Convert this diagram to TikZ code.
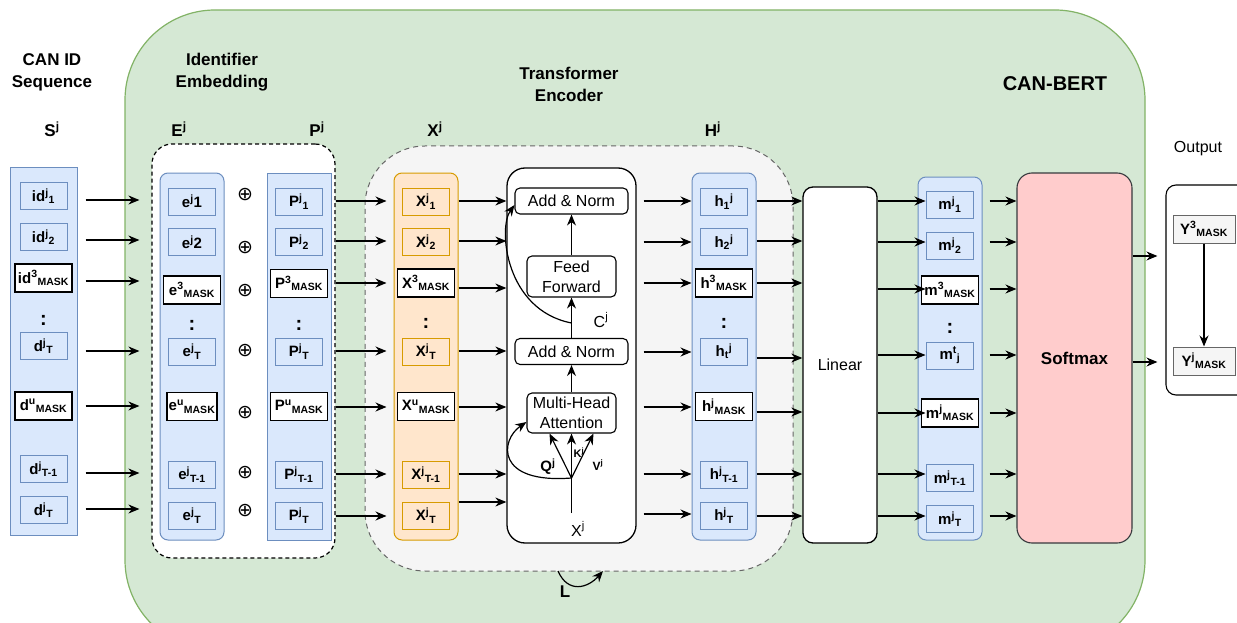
\documentclass[tikz,border=0pt]{standalone}
\usepackage{fontspec}
\setmainfont{Liberation Sans}
\newfontfamily\cbSymFont{DejaVu Sans}
\usetikzlibrary{arrows.meta}

\definecolor{bluefill}{HTML}{DAE8FC}
\definecolor{bluestroke}{HTML}{6C8EBF}
\definecolor{orfill}{HTML}{FFE6CC}
\definecolor{orstroke}{HTML}{D79B00}
\definecolor{greenfill}{HTML}{D5E8D4}
\definecolor{greenstroke}{HTML}{82B366}
\definecolor{greyfill}{HTML}{F5F5F5}
\definecolor{greystroke}{HTML}{666666}
\definecolor{redfill}{HTML}{FFCCCC}
\definecolor{darkstroke}{HTML}{36393D}

\newcommand\cbItemFont{\bfseries\fontsize{15}{15}\selectfont}
\newcommand\cbHeadFont{\bfseries\fontsize{17}{22}\selectfont}
\newcommand\cbPlainFont{\fontsize{16}{20}\selectfont}
\newcommand\cbsup[1]{\textsuperscript{#1}}
\newcommand\cbsub[1]{\textsubscript{#1}}

\begin{document}
\begin{tikzpicture}[x=1pt,y=-1pt,
  arr/.style={-{Stealth[length=11pt,width=9pt]}, line width=1.2pt},
  colbox/.style={draw=bluestroke, fill=bluefill, line width=1pt, inner sep=0pt},
  ocolbox/.style={draw=orstroke, fill=orfill, line width=1pt, inner sep=0pt},
  item/.style={draw=bluestroke, fill=bluefill, line width=1pt, minimum width=47pt,
    minimum height=27pt, inner sep=0pt, font=\cbItemFont},
  oitem/.style={item, draw=orstroke, fill=orfill},
  mask/.style={draw=black, fill=white, line width=1.2pt, minimum width=57pt,
    minimum height=28pt, inner sep=0pt, font=\cbItemFont},
  ybox/.style={draw=greystroke, fill=greyfill, line width=1pt, minimum width=62pt,
    minimum height=28pt, inner sep=0pt, font=\cbItemFont},
  dots/.style={font=\bfseries\fontsize{20}{20}\selectfont, inner sep=0pt},
  plus/.style={font=\cbSymFont\fontsize{19}{19}\selectfont, inner sep=0pt},
  head/.style={font=\cbHeadFont, align=center, inner sep=0pt},
  plain/.style={font=\cbPlainFont, align=center, inner sep=0pt},
  tbox/.style={draw=black, fill=white, line width=1.1pt, rounded corners=5pt,
    inner sep=0pt, font=\cbPlainFont, align=center},
  bigbox/.style={draw=black, fill=white, line width=1.3pt, inner sep=0pt},
]
\clip (0,0) rectangle (1237,623);
\useasboundingbox (0,0) rectangle (1237,623);

% ---------- CAN-BERT background ----------
\node[draw=greenstroke, fill=greenfill, line width=1.2pt, rounded corners=90pt,
  minimum width=1020pt, minimum height=640pt, inner sep=0pt] (bert) at (635,330) {};
\node[head, font=\bfseries\fontsize{20}{24}\selectfont] (bertlab) at (1055,84) {CAN-BERT};

% ---------- headings ----------
\node[head] (seqlab) at (52,72) {CAN ID\\Sequence};
\node[head] (emblab) at (222,72) {Identifier\\Embedding};
\node[head] (enclab) at (569,84) {Transformer\\Encoder};
\node[head] (slab) at (52,129) {S\cbsup{j}};
\node[head] (elab) at (179,129) {E\cbsup{j}};
\node[head] (plab) at (317,129) {P\cbsup{j}};
\node[head] (xlabh) at (435,129) {X\cbsup{j}};
\node[head] (hlab) at (713,129) {H\cbsup{j}};
\node[plain] (outlab) at (1198,149) {Output};

% ---------- CAN ID sequence ----------
\node[colbox, minimum width=67pt, minimum height=367pt] (Scol) at (43.5,351.5) {};
\node[item] (s1) at (43.5,196) {id\cbsup{j}\cbsub{1}};
\node[item] (s2) at (43.5,237) {id\cbsup{j}\cbsub{2}};
\node[mask] (s3) at (43.5,278) {id\cbsup{3}\cbsub{MASK}};
\node[dots] (sd) at (43.5,320) {:};
\node[item] (s4) at (43.5,346) {d\cbsup{j}\cbsub{T}};
\node[mask] (s5) at (43.5,406) {d\cbsup{u}\cbsub{MASK}};
\node[item] (s6) at (43.5,469) {d\cbsup{j}\cbsub{T-1}};
\node[item] (s7) at (43.5,510) {d\cbsup{j}\cbsub{T}};

% ---------- identifier embedding ----------
\node[draw=black, fill=white, line width=1.2pt, dash pattern=on 4pt off 3pt,
  rounded corners=20pt, minimum width=183pt, minimum height=414pt, inner sep=0pt]
  (Emb) at (243.5,351) {};
\node[colbox, rounded corners=8pt, minimum width=64pt, minimum height=367pt] (Ecol) at (192,356.5) {};
\node[item] (e1) at (192,201.5) {e\cbsup{j}1};
\node[item] (e2) at (192,242) {e\cbsup{j}2};
\node[mask] (e3) at (192,290) {e\cbsup{3}\cbsub{MASK}};
\node[dots] (ed) at (192,325) {:};
\node[item] (e4) at (192,351.5) {e\cbsup{j}\cbsub{T}};
\node[mask, minimum width=50pt] (e5) at (192,406.5) {e\cbsup{u}\cbsub{MASK}};
\node[item] (e6) at (192,474.5) {e\cbsup{j}\cbsub{T-1}};
\node[item] (e7) at (192,515.5) {e\cbsup{j}\cbsub{T}};

\foreach \y [count=\i] in {195,248,291,351,413,473,511}
  \node[plus] (plus\i) at (245,\y) {⊕};

\node[colbox, minimum width=64pt, minimum height=367pt] (Pcol) at (299,356.5) {};
\node[item] (p1) at (299,201.5) {P\cbsup{j}\cbsub{1}};
\node[item] (p2) at (299,242) {P\cbsup{j}\cbsub{2}};
\node[mask] (p3) at (299,283.5) {P\cbsup{3}\cbsub{MASK}};
\node[dots] (pd) at (299,325) {:};
\node[item] (p4) at (299,351.5) {P\cbsup{j}\cbsub{T}};
\node[mask] (p5) at (299,406.5) {P\cbsup{u}\cbsub{MASK}};
\node[item] (p6) at (299,474.5) {P\cbsup{j}\cbsub{T-1}};
\node[item] (p7) at (299,515.5) {P\cbsup{j}\cbsub{T}};

% ---------- transformer encoder region ----------
\node[draw=greystroke, fill=greyfill, line width=1pt, dash pattern=on 5pt off 4pt,
  rounded corners=60pt, minimum width=428pt, minimum height=425pt, inner sep=0pt]
  (Enc) at (579,358.5) {};

\node[ocolbox, rounded corners=8pt, minimum width=64pt, minimum height=367pt] (Xcol) at (426,356.5) {};
\node[oitem] (x1) at (426,201.5) {X\cbsup{j}\cbsub{1}};
\node[oitem] (x2) at (426,242) {X\cbsup{j}\cbsub{2}};
\node[mask] (x3) at (426,283) {X\cbsup{3}\cbsub{MASK}};
\node[dots] (xd) at (426,323) {:};
\node[oitem] (x4) at (426,351.5) {X\cbsup{j}\cbsub{T}};
\node[mask] (x5) at (426,406.5) {X\cbsup{u}\cbsub{MASK}};
\node[oitem] (x6) at (426,474.5) {X\cbsup{j}\cbsub{T-1}};
\node[oitem] (x7) at (426,515.5) {X\cbsup{j}\cbsub{T}};

% encoder block
\node[bigbox, rounded corners=18pt, minimum width=129pt, minimum height=375pt] (TB) at (571.5,355.5) {};
\node[tbox, minimum width=113pt, minimum height=26pt] (an1) at (571.5,201) {Add \& Norm};
\node[tbox, minimum width=89pt, minimum height=41pt] (ff) at (571.5,276.5) {Feed\\Forward};
\node[tbox, minimum width=113pt, minimum height=26pt] (an2) at (571.5,351.5) {Add \& Norm};
\node[tbox, minimum width=89pt, minimum height=40pt] (mha) at (571.5,413) {Multi-Head\\Attention};
\coordinate (cbr) at (571.5,323);
\coordinate (xin) at (571.5,513);
\coordinate (xbr) at (571.5,478);
\node[plain] (clab) at (601,320) {C\cbsup{j}};
\node[plain] (xinlab) at (578,529) {X\cbsup{j}};
\node[inner sep=0pt, font=\bfseries\fontsize{15}{15}\selectfont] (qlab) at (548,467) {Q\cbsup{j}};
\node[inner sep=0pt, font=\bfseries\fontsize{11}{11}\selectfont] (klab) at (579,453) {K\cbsup{j}};
\node[inner sep=0pt, font=\bfseries\fontsize{12}{12}\selectfont] (vlab) at (598,465) {V\cbsup{j}};

\draw[arr] (mha.north) -- (an2.south);
\draw[arr] (an2.north) -- (ff.south);
\draw[arr] (ff.north) -- (an1.south);
\draw[arr] (cbr) .. controls (505,310) and (498,228) .. ([yshift=-4pt]an1.west);
\draw[line width=1.2pt] (xin) -- (xbr);
\draw[arr] (xbr) -- ([xshift=-22pt]mha.south);
\draw[arr] (xbr) -- (mha.south);
\draw[arr] (xbr) -- ([xshift=22pt]mha.south);
\draw[arr] (xbr) .. controls (495,484) and (500,440) .. ([yshift=-9pt]mha.west);

% repetition loop
\coordinate (l1) at (558,571);
\coordinate (l2) at (603,571);
\draw[arr] (l1) .. controls (568,594) and (588,588) .. (l2);
\node[head] (llab) at (565,592) {L};

% hidden states
\node[colbox, rounded corners=8pt, minimum width=64pt, minimum height=367pt] (Hcol) at (724,356.5) {};
\node[item] (h1) at (724,201.5) {h\cbsub{1}\cbsup{j}};
\node[item] (h2) at (724,242) {h\cbsub{2}\cbsup{j}};
\node[mask] (h3) at (724,283) {h\cbsup{3}\cbsub{MASK}};
\node[dots] (hd) at (724,323) {:};
\node[item] (h4) at (724,351.5) {h\cbsub{t}\cbsup{j}};
\node[mask] (h5) at (724,406.5) {h\cbsup{j}\cbsub{MASK}};
\node[item] (h6) at (724,474.5) {h\cbsup{j}\cbsub{T-1}};
\node[item] (h7) at (724,515.5) {h\cbsup{j}\cbsub{T}};

% ---------- linear layer ----------
\node[bigbox, rounded corners=10pt, minimum width=74pt, minimum height=356pt, font=\cbPlainFont] (Lin) at (840,365) {Linear};

\node[colbox, rounded corners=8pt, minimum width=64pt, minimum height=363pt] (Mcol) at (950,358.5) {};
\node[item] (m1) at (950,204.5) {m\cbsup{j}\cbsub{1}};
\node[item] (m2) at (950,245.5) {m\cbsup{j}\cbsub{2}};
\node[mask] (m3) at (950,290) {m\cbsup{3}\cbsub{MASK}};
\node[dots] (md) at (950,328) {:};
\node[item] (m4) at (950,355.5) {m\cbsup{t}\cbsub{j}};
\node[mask] (m5) at (950,413) {m\cbsup{j}\cbsub{MASK}};
\node[item] (m6) at (950,478) {m\cbsup{j}\cbsub{T-1}};
\node[item] (m7) at (950,519) {m\cbsup{j}\cbsub{T}};

% ---------- softmax ----------
\node[draw=darkstroke, fill=redfill, line width=1.1pt, rounded corners=15pt, inner sep=0pt,
  minimum width=115pt, minimum height=370pt, font=\bfseries\fontsize{17}{20}\selectfont]
  (Soft) at (1074.5,358) {Softmax};

% ---------- output ----------
\node[draw=black, fill=white, line width=1.1pt, rounded corners=10pt, inner sep=0pt,
  minimum width=84pt, minimum height=210pt] (Out) at (1208,290) {};
\node[ybox] (y3) at (1204,229) {Y\cbsup{3}\cbsub{MASK}};
\node[ybox] (yj) at (1204,361) {Y\cbsup{j}\cbsub{MASK}};
\draw[arr] (y3.south) -- (yj.north);

% ---------- row connectors ----------
\foreach \y in {200,240,281,351,406,473,509}
  \draw[arr] ([xshift=8pt]Scol.east |- 0,\y) -- ([xshift=-12pt]Emb.west |- 0,\y);
\foreach \y in {201,241,283,351,407,474,516}
  \draw[arr] (Emb.east |- 0,\y) -- ([xshift=-7pt]Xcol.west |- 0,\y);
\foreach \y in {201,241,288,351,407,474,502}
  \draw[arr] (Xcol.east |- 0,\y) -- (TB.west |- 0,\y);
\foreach \y in {201,242,283,352,407,474,514}
  \draw[arr] ([xshift=7pt]TB.east |- 0,\y) -- (Hcol.west |- 0,\y);
\foreach \y in {201,241,283,358,412,474,516}
  \draw[arr] (Hcol.east |- 0,\y) -- (Lin.west |- 0,\y);
\foreach \y in {201,242,289,355,413,474,516}
  \draw[arr] (Lin.east |- 0,\y) -- ([xshift=8pt]Mcol.west |- 0,\y);
\foreach \y in {201,242,289,355,413,474,516}
  \draw[arr] ([xshift=7pt]Mcol.east |- 0,\y) -- (Soft.west |- 0,\y);
\foreach \y in {256,362}
  \draw[arr] (Soft.east |- 0,\y) -- ([xshift=-8pt]Out.west |- 0,\y);
\end{tikzpicture}
\end{document}
